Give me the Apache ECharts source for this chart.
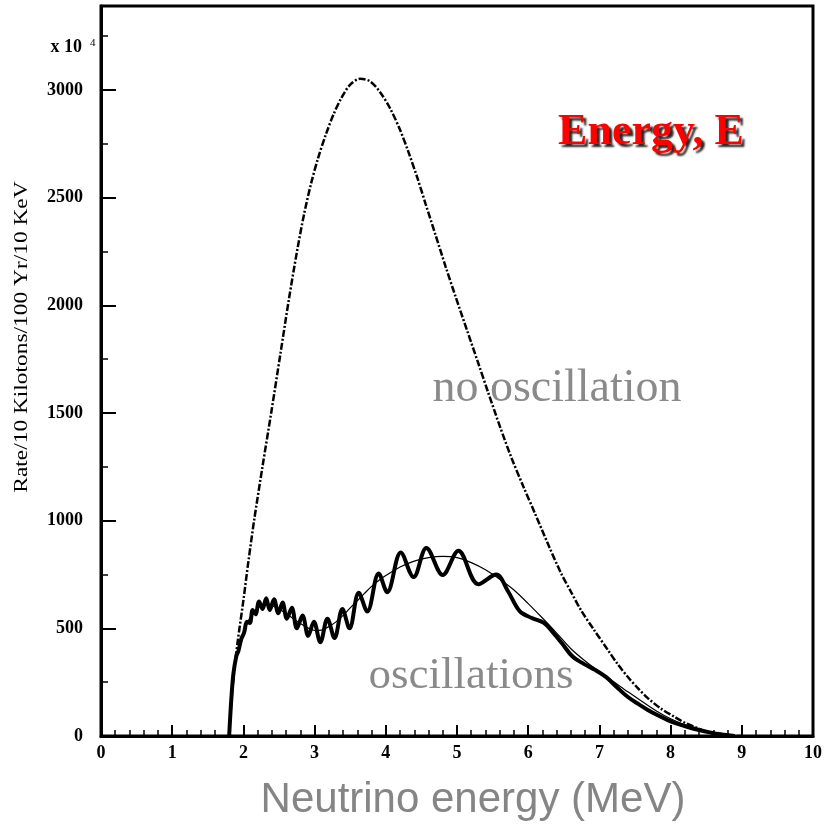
<!DOCTYPE html>
<html>
<head>
<meta charset="utf-8">
<script src="https://cdn.jsdelivr.net/npm/echarts@6/dist/echarts.min.js"></script>
<style>html,body{margin:0;padding:0;background:#fff}#c{width:825px;height:825px}</style>
</head>
<body>
<div id="c"></div>
<script>
// ---- data ----
const xTickValues = [0,1,2,3,4,5,6,7,8,9,10];
const yTickValues = [0,500,1000,1500,2000,2500,3000];

// "no oscillation" spectrum (dash-dot)
const energyNoOsc = [1.80,1.84,1.88,1.92,2.00,2.07,2.15,2.27,2.39,2.52,2.64,2.75,2.85,2.95,3.05,3.16,3.27,3.38,3.50,3.64,3.78,3.92,4.06,4.20,4.32,4.44,4.56,4.70,4.84,4.98,5.14,5.30,5.44,5.60,5.76,5.93,6.10,6.28,6.46,6.60,6.74,6.93,7.12,7.26,7.40,7.54,7.68,7.86,8.06,8.22,8.38,8.50,8.60,8.75,9.00];
const rateNoOsc   = [0,200,330,440,630,810,1000,1255,1500,1775,2030,2245,2420,2565,2685,2795,2890,2965,3025,3052,3040,2990,2915,2815,2710,2595,2470,2325,2180,2040,1885,1730,1593,1440,1296,1160,1030,890,757,670,585,490,399,332,274,222,176,128,88,58,37,20,10,3,0];

// spectrum with oscillations (thick, wiggly)
const energyOsc = [1.80,1.83,1.86,1.90,1.93,1.97,2.01,2.05,2.09,2.13,2.17,2.22,2.27,2.32,2.37,2.43,2.49,2.55,2.61,2.68,2.75,2.83,2.91,2.99,3.08,3.18,3.28,3.39,3.49,3.62,3.74,3.90,4.02,4.21,4.39,4.57,4.80,5.02,5.30,5.55,5.72,5.88,6.05,6.22,6.35,6.48,6.62,6.78,6.94,7.10,7.25,7.40,7.55,7.68,7.82,7.96,8.10,8.24,8.40,8.55,8.70,8.90];
const rateOsc   = [0,170,290,370,395,450,480,530,525,585,565,625,590,640,585,635,570,620,545,595,500,560,465,530,435,545,455,590,500,665,578,755,668,852,738,873,748,860,705,750,670,580,548,525,480,428,370,335,307,272,225,181,148,121,96,74,56,42,28,17,8,0];

// averaged oscillation spectrum (thin)
const energyAvg = [1.80,1.85,1.92,2.00,2.10,2.20,2.30,2.40,2.50,2.60,2.70,2.80,2.90,3.00,3.10,3.20,3.30,3.40,3.50,3.60,3.70,3.80,3.90,4.00,4.20,4.40,4.60,4.80,5.00,5.20,5.40,5.60,5.80,6.00,6.20,6.40,6.60,6.80,7.00,7.20,7.40,7.60,7.80,8.00,8.20,8.40,8.60,8.80,9.00];
const rateAvg   = [0,280,400,480,555,595,608,605,590,568,545,522,503,490,492,508,530,560,595,628,662,695,722,745,785,812,828,834,828,805,772,728,678,615,548,478,405,348,298,252,205,160,116,80,52,30,14,4,0];

const pairs = (xs, ys) => xs.map((x, i) => [x, ys[i]]);

const chart = echarts.init(document.getElementById('c'), null, {renderer: 'canvas'});
const serifBold = {fontFamily: '"Liberation Serif", "Times New Roman", serif', fontWeight: 'bold', fontSize: 18, color: '#000'};

chart.setOption({
  animation: false,
  backgroundColor: '#fff',
  grid: {left: 101, right: 8, top: 6, bottom: 89, show: true, borderColor: '#000', borderWidth: 3, backgroundColor: 'transparent'},
  xAxis: {
    type: 'value', min: 0, max: 10, interval: 1,
    axisLine: {show: true, lineStyle: {color: '#000', width: 3}},
    axisTick: {show: true, inside: true, length: 11, lineStyle: {color: '#000', width: 2}},
    minorTick: {show: true, splitNumber: 5, length: 6, lineStyle: {color: '#000', width: 1.5}},
    splitLine: {show: false},
    axisLabel: Object.assign({margin: 8, formatter: v => xTickValues.includes(v) ? String(v) : ''}, serifBold)
  },
  yAxis: [{
    type: 'value', min: 0, max: 3390, interval: 500,
    axisLine: {show: true, lineStyle: {color: '#000', width: 3}},
    axisTick: {show: true, inside: true, length: 15, lineStyle: {color: '#000', width: 2}},
    splitLine: {show: false},
    axisLabel: Object.assign({margin: 18, showMaxLabel: false, formatter: v => yTickValues.includes(v) ? String(v) : ''}, serifBold)
  }, {
    type: 'value', min: 0, max: 3390, interval: 250, position: 'left',
    axisLine: {show: false},
    axisTick: {show: true, inside: true, length: 7, lineStyle: {color: '#000', width: 1.5}},
    splitLine: {show: false},
    axisLabel: {show: false}
  }],
  series: [{
    type: 'line', name: 'no oscillation', data: pairs(energyNoOsc, rateNoOsc), smooth: 0.3,
    showSymbol: false, lineStyle: {color: '#000', width: 2.5, type: [7, 2, 2, 2]}
  }, {
    type: 'line', name: 'average', data: pairs(energyAvg, rateAvg), smooth: 0.3,
    showSymbol: false, lineStyle: {color: '#000', width: 1.2}
  }, {
    type: 'line', name: 'oscillations', data: pairs(energyOsc, rateOsc), smooth: 0.35,
    showSymbol: false, lineStyle: {color: '#000', width: 4}
  }],
  graphic: [
    {type: 'text', x: 82, y: 47, style: {text: 'x 10', font: 'bold 18px "Liberation Serif"', fill: '#000', textAlign: 'right', textVerticalAlign: 'middle'}},
    {type: 'text', x: 90, y: 43, style: {text: '4', font: '11px "Liberation Serif"', fill: '#000', textAlign: 'left', textVerticalAlign: 'middle'}},
    {type: 'text', x: 22, y: 337, rotation: Math.PI / 2, scaleX: 1.3,
     style: {text: 'Rate/10 Kilotons/100 Yr/10 KeV', font: '18px "Liberation Serif"', fill: '#000', textAlign: 'center', textVerticalAlign: 'middle'}},
    {type: 'text', x: 473, y: 800, style: {text: 'Neutrino energy (MeV)', font: '42px "Liberation Sans"', fill: '#858585', textAlign: 'center', textVerticalAlign: 'middle'}},
    {type: 'text', x: 651, y: 133, style: {text: 'Energy, E', font: 'bold 44px "Liberation Serif"', fill: '#ff0000', textAlign: 'center', textVerticalAlign: 'middle',
      textShadowColor: 'rgba(0,0,0,0.85)', textShadowBlur: 2, textShadowOffsetX: 3, textShadowOffsetY: 3}},
    {type: 'text', x: 557, y: 389, style: {text: 'no oscillation', font: '46px "Liberation Serif"', fill: '#8a8a8a', textAlign: 'center', textVerticalAlign: 'middle'}},
    {type: 'text', x: 471, y: 676, style: {text: 'oscillations', font: '45px "Liberation Serif"', fill: '#8a8a8a', textAlign: 'center', textVerticalAlign: 'middle'}}
  ]
});
</script>
</body>
</html>
